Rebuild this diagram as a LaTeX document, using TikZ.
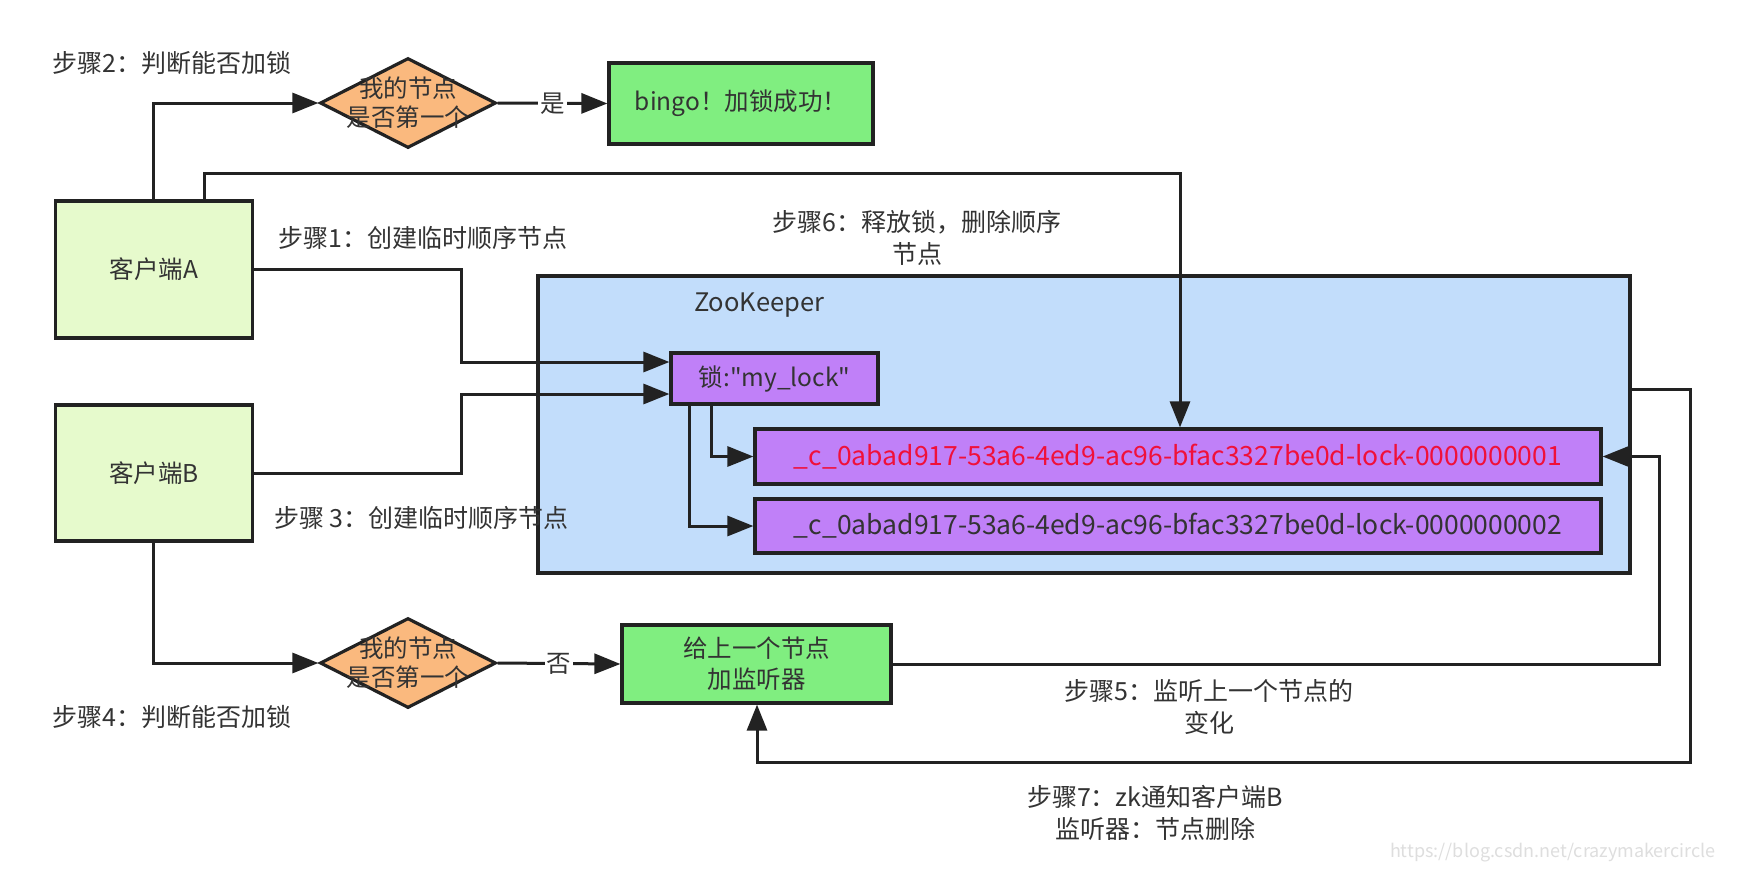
\documentclass[tikz,border=0pt]{standalone}
\usepackage{fontspec}
\setmainfont{Noto Sans CJK SC}
\newfontfamily\plainfnt{Noto Sans CJK SC}
\usetikzlibrary{arrows.meta,shapes.geometric}
\definecolor{clientfill}{HTML}{E6FACC}
\definecolor{decfill}{HTML}{FAB97E}
\definecolor{okfill}{HTML}{80EE80}
\definecolor{zkfill}{HTML}{C2DDFB}
\definecolor{purp}{HTML}{C080F8}
\definecolor{txt}{HTML}{333333}
\definecolor{redtxt}{HTML}{F0103A}
\definecolor{linec}{HTML}{222222}
\begin{document}
\begin{tikzpicture}[x=1pt,y=-1pt,
  every node/.style={text=txt, font=\fontsize{24.5}{31}\selectfont},
  boxstyle/.style={draw=linec, line width=3.2pt, rectangle, inner sep=0pt},
  dec/.style={draw=linec, line width=3.2pt, diamond, fill=decfill, minimum width=176pt, minimum height=90pt, inner sep=0pt},
  arr/.style={draw=linec, line width=3pt, -{Triangle[length=26pt,width=20pt]}},
  lbl/.style={fill=white, inner sep=2pt},
  steplbl/.style={align=center, inner sep=0pt, font=\fontsize{25}{32}\selectfont}
]
\useasboundingbox (0,0) rectangle (1742,868);
\fill[white] (0,0) rectangle (1742,868);

% ZooKeeper container
\node[boxstyle, fill=zkfill, minimum width=1092pt, minimum height=297pt] (zk) at (1084,424.5) {};
\node[anchor=west, inner sep=0pt, font=\fontsize{25.5}{31}\selectfont] (zkt) at (694,305) {ZooKeeper};

% clients
\node[boxstyle, fill=clientfill, minimum width=197pt, minimum height=137pt] (A) at (154,269.5) {客户端A};
\node[boxstyle, fill=clientfill, minimum width=197pt, minimum height=136pt] (B) at (154,473) {客户端B};

% decisions
\node[dec, label={[align=center, text=txt, font=\fontsize{24.5}{29}\selectfont]center:我的节点\\是否第一个}] (d1) at (408,103) {};
\node[dec, label={[align=center, text=txt, font=\fontsize{24.5}{29}\selectfont]center:我的节点\\是否第一个}] (d2) at (408,663) {};

% results
\node[boxstyle, fill=okfill, minimum width=264pt, minimum height=81pt] (bingo) at (741,103.5) {bingo！加锁成功！};
\node[boxstyle, fill=okfill, minimum width=269pt, minimum height=78pt, align=center] (lis) at (756.5,664) {给上一个节点\\加监听器};

% lock nodes
\node[boxstyle, fill=purp, minimum width=207pt, minimum height=51pt] (lock) at (774.5,378.5) {\plainfnt 锁:"my\_lock"};
\node[boxstyle, fill=purp, minimum width=846pt, minimum height=55pt, text=redtxt, font=\fontsize{26.5}{30}\selectfont] (n1) at (1178,456.5) {\_c\_0abad917-53a6-4ed9-ac96-bfac3327be0d-lock-0000000001};
\node[boxstyle, fill=purp, minimum width=846pt, minimum height=54pt, font=\fontsize{26.5}{30}\selectfont] (n2) at (1178,526) {\_c\_0abad917-53a6-4ed9-ac96-bfac3327be0d-lock-0000000002};

% step labels
\node[steplbl, anchor=west] (s2) at (52,63) {步骤2：判断能否加锁};
\node[steplbl, anchor=west] (s1) at (278,238) {步骤1：创建临时顺序节点};
\node[steplbl, anchor=west] (s3) at (274,518) {步骤 3：创建临时顺序节点};
\node[steplbl, anchor=west] (s4) at (52,717) {步骤4：判断能否加锁};
\node[steplbl] (s6) at (917,238) {步骤6：释放锁，删除顺序\\节点};
\node[steplbl] (s5) at (1209,707) {步骤5：监听上一个节点的\\变化};
\node[steplbl] (s7) at (1155,813) {步骤7：zk通知客户端B\\监听器：节点删除};

% connectors
\draw[arr] ([xshift=-1pt]A.north) |- (d1.west);
\draw[arr] (d1.east) -- node[lbl] (yes) {是} (bingo.west);
\draw[arr] ([xshift=50pt]A.north) -- ++(0,-26) -| ([xshift=2pt]n1.north);
\draw[arr] (A.east) -| (461,362) -- ([yshift=16.5pt]lock.west);
\draw[arr] (B.east) -| (461,394) -- ([yshift=-15.5pt]lock.west);
\draw[arr] ([xshift=-1pt]B.south) |- (d2.west);
\draw[arr] (d2.east) -- node[lbl] (no) {否} (lis.west);
\draw[arr] ([xshift=-63.5pt]lock.south) |- (n1.west);
\draw[arr] ([xshift=-85.5pt]lock.south) |- (n2.west);
\coordinate (r1) at (1659,456.5);
\draw[arr] (lis.east) -| (r1) -- (n1.east);
\coordinate (r2) at (1690,762);
\draw[arr] ([yshift=35.5pt]zk.east) -| (r2) -| ([xshift=0.5pt]lis.south);

% watermark
\node[anchor=east, text=black!13, font=\fontsize{18}{20}\selectfont, inner sep=0pt] (wm) at (1716,853) {https://blog.csdn.net/crazymakercircle};
\end{tikzpicture}
\end{document}
